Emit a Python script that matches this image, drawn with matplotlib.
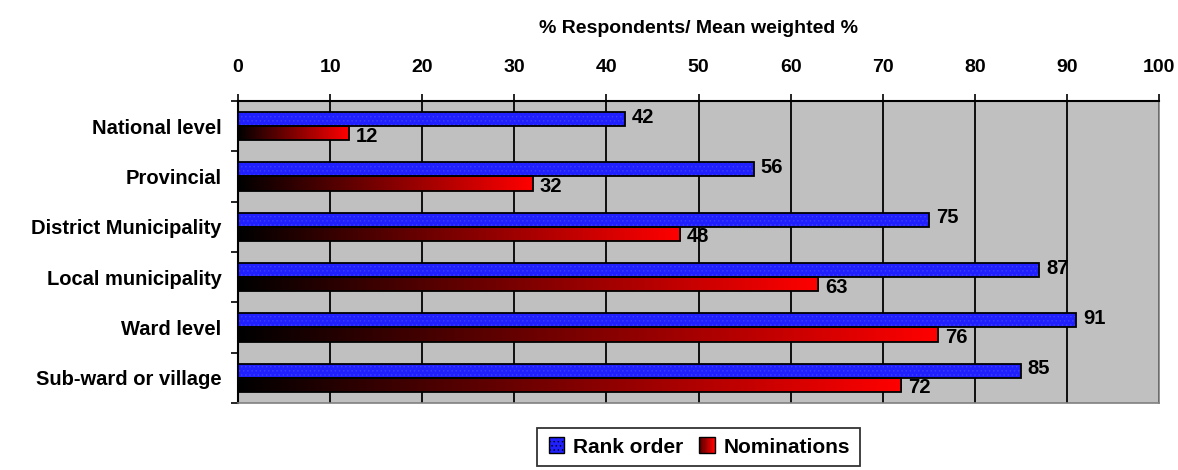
import numpy as np
import matplotlib.pyplot as plt
from matplotlib.colors import LinearSegmentedColormap
from matplotlib.patches import Rectangle, Patch
from matplotlib.legend_handler import HandlerBase

plt.rcParams['font.family'] = ['Liberation Sans', 'DejaVu Sans']
plt.rcParams['font.weight'] = 'bold'

categories = ["National level", "Provincial", "District Municipality",
              "Local municipality", "Ward level", "Sub-ward or village"]
rank_order = [42, 56, 75, 87, 91, 85]
nominations = [12, 32, 48, 63, 76, 72]
xticks = list(range(0, 101, 10))

red_cmap = LinearSegmentedColormap.from_list("blk_red", ["#000000", "#ff0000"])
blue = "#2020ff"
FS = 14


class GradientHandler(HandlerBase):
    # legend square filled with a black -> red gradient
    def create_artists(self, legend, orig, xdescent, ydescent, width, height, fontsize, trans):
        arts = []
        s = height * 1.05
        x0 = xdescent + (width - s) / 2
        n = 12
        for i in range(n):
            arts.append(Rectangle((x0 + i * s / n, -ydescent), s / n, s,
                                  facecolor=red_cmap(0.35 + 0.65 * i / (n - 1)),
                                  edgecolor='none', transform=trans))
        arts.append(Rectangle((x0, -ydescent), s, s, facecolor='none',
                              edgecolor='black', lw=1.0, transform=trans))
        return arts


class SquareHandler(HandlerBase):
    def create_artists(self, legend, orig, xdescent, ydescent, width, height, fontsize, trans):
        s = height * 1.05
        x0 = xdescent + (width - s) / 2
        return [Rectangle((x0, -ydescent), s, s, facecolor=blue, hatch='....',
                          edgecolor='black', lw=1.0, transform=trans)]


plt.rcParams['hatch.color'] = '#4040ff'
plt.rcParams['hatch.linewidth'] = 0.5

fig = plt.figure(figsize=(11.78, 4.70), dpi=100)
ax = fig.add_axes([0.2021, 0.1426, 0.7818, 0.6426])
ax.set_facecolor('#c0c0c0')

y = np.arange(len(categories))
h = 0.28
off = 0.14
grad = np.linspace(0, 1, 256).reshape(1, -1)

for i, (b, r) in enumerate(zip(rank_order, nominations)):
    ax.barh(i - off, b, height=h, color=blue, hatch='....', edgecolor='#4040ff', lw=0, zorder=3)
    ax.barh(i - off, b, height=h, facecolor='none', edgecolor='black', lw=1.3, zorder=4)
    ax.imshow(grad, cmap=red_cmap, aspect='auto', zorder=3,
              extent=[0, r, i + off + h / 2, i + off - h / 2])
    ax.barh(i + off, r, height=h, facecolor='none', edgecolor='black', lw=1.3, zorder=4)
    ax.annotate(str(b), (b, i - off - 0.04), xytext=(5, 0), textcoords='offset points',
                ha='left', va='center', fontsize=FS + 0.5, fontweight='bold')
    ax.annotate(str(r), (r, i + off + 0.06), xytext=(5, 0), textcoords='offset points',
                ha='left', va='center', fontsize=FS + 0.5, fontweight='bold')

ax.set_xlim(0, 100)
ax.set_ylim(len(categories) - 0.5, -0.5)
ax.xaxis.tick_top()
ax.xaxis.set_label_position('top')
ax.set_xticks(xticks)
ax.set_xticklabels([str(t) for t in xticks], fontsize=FS, fontweight='bold')
ax.set_xlabel("% Respondents/ Mean weighted %", fontsize=FS, fontweight='bold', labelpad=19)
ax.tick_params(axis='x', direction='out', length=5, width=1.2, pad=13)
ax.grid(axis='x', color='black', lw=1.3, zorder=1)

ax.set_yticks(y)
ax.set_yticklabels(categories, fontsize=FS + 0.5, fontweight='bold')
ax.set_yticks(np.arange(-0.5, len(categories)), minor=True)
ax.tick_params(axis='y', which='major', length=0, pad=12)
ax.tick_params(axis='y', which='minor', direction='out', length=5, width=1.2)

for s in ['left', 'top']:
    ax.spines[s].set_color('black')
    ax.spines[s].set_linewidth(1.5)
for s in ['right', 'bottom']:
    ax.spines[s].set_color('#808080')
    ax.spines[s].set_linewidth(1.2)

h1 = Patch(label='Rank order')
h2 = Patch(label='Nominations')
leg = fig.legend([h1, h2], ['Rank order', 'Nominations'],
                 handler_map={h1: SquareHandler(), h2: GradientHandler()},
                 loc='lower center', bbox_to_anchor=(0.593, -0.005), ncol=2,
                 frameon=True, fancybox=False, edgecolor='black', fontsize=FS + 1,
                 handlelength=0.9, handletextpad=0.35, columnspacing=0.7,
                 borderpad=0.45, borderaxespad=0.3)
leg.get_frame().set_linewidth(1.3)
for t in leg.get_texts():
    t.set_fontweight('bold')

fig.savefig('out.png', dpi=100)
